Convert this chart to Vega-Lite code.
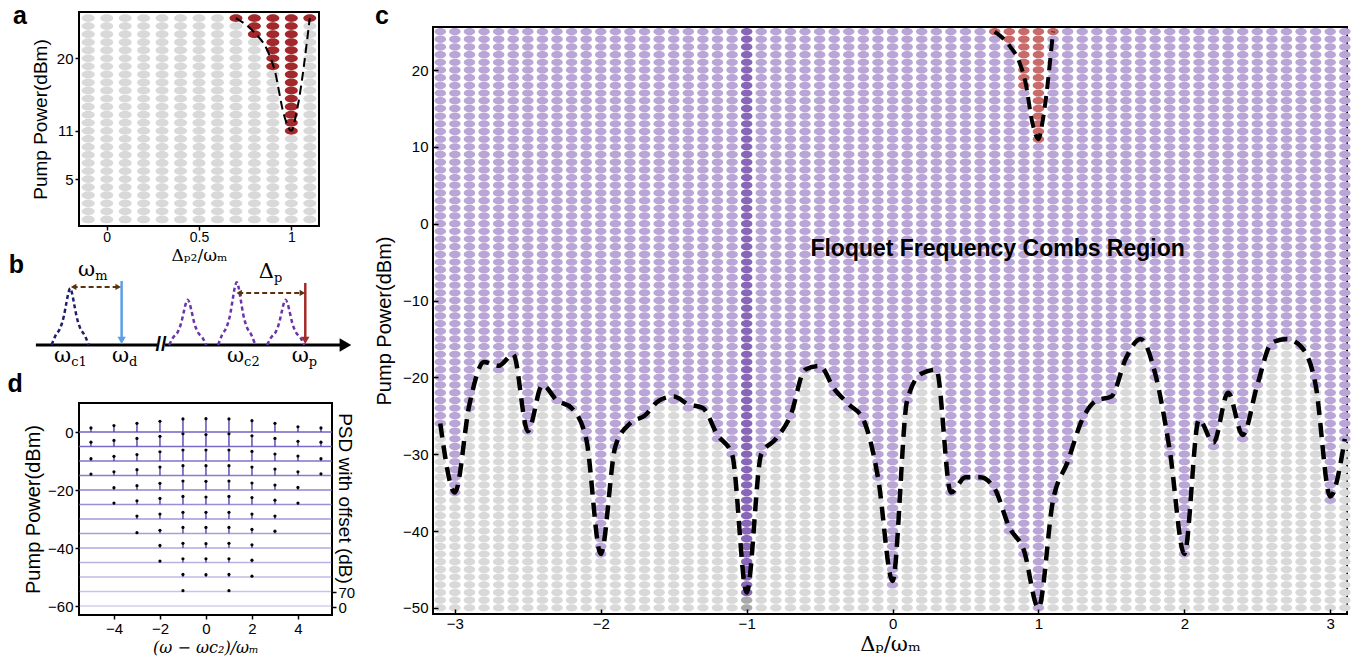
{
  "$schema": "https://vega.github.io/schema/vega-lite/v6.json",
  "background": "white",
  "padding": {"left": 6, "top": 2, "right": 0, "bottom": 0},
  "config": {
    "view": {"stroke": "black", "strokeWidth": 2},
    "font": "Liberation Sans",
    "axis": {"domain": false, "grid": false, "ticks": true, "tickColor": "black", "tickSize": 4, "tickWidth": 1.5, "labelFont": "Liberation Sans", "labelFontSize": 15, "labelColor": "black", "titleFont": "Liberation Sans", "titleFontWeight": "normal", "titleColor": "black", "labelPadding": 2}
  },
  "datasets": {
    "ysC": [{"k": 1, "ys": [-50,-49,-48,-47,-46,-45,-44,-43,-42,-41,-40,-39,-38,-37,-36,-35,-34,-33,-32,-31,-30,-29,-28,-27,-26,-25,-24,-23,-22,-21,-20,-19,-18,-17,-16,-15,-14,-13,-12,-11,-10,-9,-8,-7,-6,-5,-4,-3,-2,-1,0,1,2,3,4,5,6,7,8,9,10,11,12,13,14,15,16,17,18,19,20,21,22,23,24,25]}],
    "ysA": [{"k": 1, "ys": [0,1,2,3,4,5,6,7,8,9,10,11,12,13,14,15,16,17,18,19,20,21,22,23,24,25]}],
    "colsC": [
      {"k":1,"x":-3.1,"t":-26},{"k":1,"x":-3.0,"t":-35},{"k":1,"x":-2.9,"t":-23.5},{"k":1,"x":-2.8,"t":-18},{"k":1,"x":-2.7,"t":-18.5},
      {"k":1,"x":-2.6,"t":-17},{"k":1,"x":-2.5,"t":-27},{"k":1,"x":-2.4,"t":-21},{"k":1,"x":-2.3,"t":-23},{"k":1,"x":-2.2,"t":-24},
      {"k":1,"x":-2.1,"t":-28},{"k":1,"x":-2.0,"t":-43},{"k":1,"x":-1.9,"t":-29},{"k":1,"x":-1.8,"t":-26},{"k":1,"x":-1.7,"t":-25},
      {"k":1,"x":-1.6,"t":-23},{"k":1,"x":-1.5,"t":-22.5},{"k":1,"x":-1.4,"t":-23.5},{"k":1,"x":-1.3,"t":-24},{"k":1,"x":-1.2,"t":-27.5},
      {"k":1,"x":-1.1,"t":-30},{"k":1,"x":-1.0,"t":-48,"hl":1},{"k":1,"x":-0.9,"t":-30},{"k":1,"x":-0.8,"t":-28},{"k":1,"x":-0.7,"t":-25},
      {"k":1,"x":-0.6,"t":-19},{"k":1,"x":-0.5,"t":-18.5},{"k":1,"x":-0.4,"t":-21.5},{"k":1,"x":-0.3,"t":-23.5},{"k":1,"x":-0.2,"t":-25.5},
      {"k":1,"x":-0.1,"t":-33},{"k":1,"x":0.0,"t":-46.5},{"k":1,"x":0.1,"t":-23},{"k":1,"x":0.2,"t":-19.5},{"k":1,"x":0.3,"t":-19},
      {"k":1,"x":0.4,"t":-35},{"k":1,"x":0.5,"t":-33},{"k":1,"x":0.6,"t":-33},{"k":1,"x":0.7,"t":-34.5,"r":25},{"k":1,"x":0.8,"t":-39.5,"r":24},
      {"k":1,"x":0.9,"t":-42.5,"r":18},{"k":1,"x":1.0,"t":-50,"r":11},{"k":1,"x":1.1,"t":-36,"r":25},{"k":1,"x":1.2,"t":-31},{"k":1,"x":1.3,"t":-25.5},
      {"k":1,"x":1.4,"t":-23},{"k":1,"x":1.5,"t":-22.5},{"k":1,"x":1.6,"t":-17.5},{"k":1,"x":1.7,"t":-15},{"k":1,"x":1.8,"t":-19.5},
      {"k":1,"x":1.9,"t":-29.5},{"k":1,"x":2.0,"t":-43},{"k":1,"x":2.1,"t":-25.5},{"k":1,"x":2.2,"t":-28.5},{"k":1,"x":2.3,"t":-22},
      {"k":1,"x":2.4,"t":-27.5},{"k":1,"x":2.5,"t":-21},{"k":1,"x":2.6,"t":-15.5},{"k":1,"x":2.7,"t":-15},{"k":1,"x":2.8,"t":-16},
      {"k":1,"x":2.9,"t":-21},{"k":1,"x":3.0,"t":-35.5},{"k":1,"x":3.1,"t":-28}
    ],
    "colsA": [
      {"k":1,"x":-0.1},{"k":1,"x":0.0},{"k":1,"x":0.1},{"k":1,"x":0.2},{"k":1,"x":0.3},{"k":1,"x":0.4},{"k":1,"x":0.5},
      {"k":1,"x":0.6},{"k":1,"x":0.7,"r":25},{"k":1,"x":0.8,"r":23},{"k":1,"x":0.9,"r":19},{"k":1,"x":1.0,"r":11},{"k":1,"x":1.1,"r":25}
    ],
    "redCurve": [
      {"x":0.7,"y":25},{"x":0.8,"y":23.2},{"x":0.87,"y":21},{"x":0.91,"y":18.5},{"x":0.96,"y":13},{"x":1.0,"y":11},{"x":1.03,"y":13.5},{"x":1.1,"y":25}
    ],
    "baseD": [{"P":0},{"P":-5},{"P":-10},{"P":-15},{"P":-20},{"P":-25},{"P":-30},{"P":-35},{"P":-40},{"P":-45},{"P":-50},{"P":-55},{"P":-60}],
    "combD": [
      {"P":0,"n":-5,"v":1.4},{"P":0,"n":-4,"v":2.2},{"P":0,"n":-3,"v":3.0},{"P":0,"n":-2,"v":3.7},{"P":0,"n":-1,"v":4.5},{"P":0,"n":0,"v":4.6},{"P":0,"n":1,"v":4.5},{"P":0,"n":2,"v":3.9},{"P":0,"n":3,"v":3.0},{"P":0,"n":4,"v":1.8},{"P":0,"n":5,"v":1.4},
      {"P":-5,"n":-5,"v":-3.5},{"P":-5,"n":-4,"v":-2.9},{"P":-5,"n":-3,"v":-2.2},{"P":-5,"n":-2,"v":-1.5},{"P":-5,"n":-1,"v":-0.6},{"P":-5,"n":0,"v":-0.9},{"P":-5,"n":1,"v":-0.6},{"P":-5,"n":2,"v":-1.3},{"P":-5,"n":3,"v":-2.2},{"P":-5,"n":4,"v":-3.2},{"P":-5,"n":5,"v":-3.5},
      {"P":-10,"n":-5,"v":-9.2},{"P":-10,"n":-4,"v":-8.4},{"P":-10,"n":-3,"v":-7.8},{"P":-10,"n":-2,"v":-6.8},{"P":-10,"n":-1,"v":-6.2},{"P":-10,"n":0,"v":-6.2},{"P":-10,"n":1,"v":-6.2},{"P":-10,"n":2,"v":-6.7},{"P":-10,"n":3,"v":-7.6},{"P":-10,"n":4,"v":-8.3},{"P":-10,"n":5,"v":-9.2},
      {"P":-15,"n":-5,"v":-14.5},{"P":-15,"n":-4,"v":-13.7},{"P":-15,"n":-3,"v":-13.0},{"P":-15,"n":-2,"v":-12.1},{"P":-15,"n":-1,"v":-11.6},{"P":-15,"n":0,"v":-11.6},{"P":-15,"n":1,"v":-11.6},{"P":-15,"n":2,"v":-12.1},{"P":-15,"n":3,"v":-12.8},{"P":-15,"n":4,"v":-13.7},{"P":-15,"n":5,"v":-14.4},
      {"P":-20,"n":-4,"v":-19.2},{"P":-20,"n":-3,"v":-18.5},{"P":-20,"n":-2,"v":-17.7},{"P":-20,"n":-1,"v":-16.9},{"P":-20,"n":0,"v":-17.0},{"P":-20,"n":1,"v":-16.9},{"P":-20,"n":2,"v":-17.6},{"P":-20,"n":3,"v":-18.3},{"P":-20,"n":4,"v":-19.1},
      {"P":-25,"n":-4,"v":-24.5},{"P":-25,"n":-3,"v":-23.7},{"P":-25,"n":-2,"v":-22.9},{"P":-25,"n":-1,"v":-22.2},{"P":-25,"n":0,"v":-22.4},{"P":-25,"n":1,"v":-22.2},{"P":-25,"n":2,"v":-22.6},{"P":-25,"n":3,"v":-23.5},{"P":-25,"n":4,"v":-24.5},
      {"P":-30,"n":-3,"v":-29.0},{"P":-30,"n":-2,"v":-28.3},{"P":-30,"n":-1,"v":-27.7},{"P":-30,"n":0,"v":-27.7},{"P":-30,"n":1,"v":-27.7},{"P":-30,"n":2,"v":-28.3},{"P":-30,"n":3,"v":-29.0},
      {"P":-35,"n":-3,"v":-34.7},{"P":-35,"n":-2,"v":-33.9},{"P":-35,"n":-1,"v":-32.9},{"P":-35,"n":0,"v":-32.9},{"P":-35,"n":1,"v":-32.9},{"P":-35,"n":2,"v":-33.6},{"P":-35,"n":3,"v":-34.2},
      {"P":-40,"n":-2,"v":-39.1},{"P":-40,"n":-1,"v":-38.4},{"P":-40,"n":0,"v":-38.5},{"P":-40,"n":1,"v":-38.4},{"P":-40,"n":2,"v":-38.9},
      {"P":-45,"n":-2,"v":-44.5},{"P":-45,"n":-1,"v":-43.7},{"P":-45,"n":0,"v":-43.7},{"P":-45,"n":1,"v":-43.7},{"P":-45,"n":2,"v":-44.2},
      {"P":-50,"n":-1,"v":-49.1},{"P":-50,"n":0,"v":-49.2},{"P":-50,"n":1,"v":-49.1},{"P":-50,"n":2,"v":-49.7},
      {"P":-55,"n":-1,"v":-54.7},{"P":-55,"n":1,"v":-54.7}
    ],
    "peaksB": [
      {"pk":"A","g":"1","f":-0.38,"a":0},{"pk":"A","g":"1","f":-0.3,"a":0.14},{"pk":"A","g":"1","f":-0.2,"a":0.26},{"pk":"A","g":"1","f":-0.13,"a":0.43},{"pk":"A","g":"1","f":-0.08,"a":0.62},{"pk":"A","g":"1","f":-0.04,"a":0.77},{"pk":"A","g":"1","f":0,"a":0.85},{"pk":"A","g":"1","f":0.04,"a":0.77},{"pk":"A","g":"1","f":0.08,"a":0.62},{"pk":"A","g":"1","f":0.13,"a":0.43},{"pk":"A","g":"1","f":0.2,"a":0.26},{"pk":"A","g":"1","f":0.3,"a":0.14},{"pk":"A","g":"1","f":0.38,"a":0},
      {"pk":"B","g":"2","f":2.02,"a":0},{"pk":"B","g":"2","f":2.1,"a":0.11},{"pk":"B","g":"2","f":2.2,"a":0.2},{"pk":"B","g":"2","f":2.27,"a":0.34},{"pk":"B","g":"2","f":2.32,"a":0.5},{"pk":"B","g":"2","f":2.36,"a":0.62},{"pk":"B","g":"2","f":2.4,"a":0.68},{"pk":"B","g":"2","f":2.44,"a":0.62},{"pk":"B","g":"2","f":2.48,"a":0.5},{"pk":"B","g":"2","f":2.53,"a":0.34},{"pk":"B","g":"2","f":2.6,"a":0.2},{"pk":"B","g":"2","f":2.7,"a":0.11},{"pk":"B","g":"2","f":2.78,"a":0},
      {"pk":"C","g":"2","f":3.02,"a":0},{"pk":"C","g":"2","f":3.1,"a":0.15},{"pk":"C","g":"2","f":3.2,"a":0.28},{"pk":"C","g":"2","f":3.27,"a":0.47},{"pk":"C","g":"2","f":3.32,"a":0.69},{"pk":"C","g":"2","f":3.36,"a":0.86},{"pk":"C","g":"2","f":3.4,"a":0.94},{"pk":"C","g":"2","f":3.44,"a":0.86},{"pk":"C","g":"2","f":3.48,"a":0.69},{"pk":"C","g":"2","f":3.53,"a":0.47},{"pk":"C","g":"2","f":3.6,"a":0.28},{"pk":"C","g":"2","f":3.7,"a":0.15},{"pk":"C","g":"2","f":3.78,"a":0},
      {"pk":"D","g":"2","f":4.02,"a":0},{"pk":"D","g":"2","f":4.1,"a":0.11},{"pk":"D","g":"2","f":4.2,"a":0.2},{"pk":"D","g":"2","f":4.27,"a":0.34},{"pk":"D","g":"2","f":4.32,"a":0.5},{"pk":"D","g":"2","f":4.36,"a":0.62},{"pk":"D","g":"2","f":4.4,"a":0.68},{"pk":"D","g":"2","f":4.44,"a":0.62},{"pk":"D","g":"2","f":4.48,"a":0.5},{"pk":"D","g":"2","f":4.53,"a":0.34},{"pk":"D","g":"2","f":4.6,"a":0.2},{"pk":"D","g":"2","f":4.7,"a":0.11},{"pk":"D","g":"2","f":4.78,"a":0}
    ]
  },
  "spacing": 17,
  "hconcat": [
    {
      "bounds": "flush",
      "spacing": 30,
      "vconcat": [
        {
          "width": 240, "height": 214,
          "layer": [
            {
              "data": {"name": "colsA"},
              "transform": [
                {"lookup": "k", "from": {"data": {"name": "ysA"}, "key": "k", "fields": ["ys"]}},
                {"flatten": ["ys"], "as": ["y"]}
              ],
              "mark": {"type": "point", "filled": true, "opacity": 1, "size": 170, "shape": "M-1,0A1,0.6,0,1,0,1,0A1,0.6,0,1,0,-1,0Z"},
              "encoding": {
                "x": {"field": "x", "type": "quantitative", "scale": {"domain": [-0.15, 1.15], "nice": false, "zero": false},
                      "axis": {"values": [0, 0.5, 1], "labelExpr": "datum.value", "labelPadding": 0, "labelFontSize": 14, "title": "Δₚ₂/ωₘ", "titleFont": "DejaVu Serif", "titleFontSize": 17, "titlePadding": 3}},
                "y": {"field": "y", "type": "quantitative", "scale": {"domain": [-0.82, 25.75], "nice": false, "zero": false},
                      "axis": {"values": [5, 11, 20], "title": "Pump Power(dBm)", "titleFontSize": 19, "titlePadding": 6}},
                "color": {"condition": {"test": "isValid(datum.r) && datum.y >= datum.r - 0.5", "value": "#a3282c"}, "value": "#d9d9d9"}
              }
            },
            {
              "data": {"name": "redCurve"},
              "mark": {"type": "line", "color": "black", "strokeWidth": 2, "strokeDash": [9, 5], "interpolate": "monotone"},
              "encoding": {"x": {"field": "x", "type": "quantitative"}, "y": {"field": "y", "type": "quantitative"}}
            },
            {
              "data": {"values": [{"lab": "a"}]},
              "mark": {"type": "text", "fontSize": 25, "fontWeight": "bold", "color": "black", "clip": false},
              "encoding": {"x": {"datum": -0.47}, "y": {"datum": 25.3}, "text": {"field": "lab"}}
            }
          ]
        },
        {
          "width": 240, "height": 117,
          "view": {"stroke": null},
          "layer": [
            {
              "data": {"values": [{"x1": -0.7, "x2": 1.78}, {"x1": 1.93, "x2": 5.55}]},
              "mark": {"type": "rule", "color": "black", "strokeWidth": 3, "clip": false},
              "encoding": {
                "x": {"field": "x1", "type": "quantitative", "scale": {"domain": [0.18, 5.08], "nice": false, "zero": false}, "axis": null},
                "x2": {"field": "x2"},
                "y": {"datum": 0, "type": "quantitative", "scale": {"domain": [-0.42, 1.334], "nice": false, "zero": false}, "axis": null}
              }
            },
            {
              "data": {"values": [{"f": 5.62, "y": 0}]},
              "mark": {"type": "point", "shape": "triangle-right", "filled": true, "color": "black", "size": 180, "opacity": 1, "clip": false},
              "encoding": {"x": {"field": "f", "type": "quantitative"}, "y": {"field": "y", "type": "quantitative"}}
            },
            {
              "data": {"values": [{"f": 1.855, "y": 0, "s": "//"}]},
              "mark": {"type": "text", "fontSize": 20, "fontWeight": "bold", "color": "black", "clip": false},
              "encoding": {"x": {"field": "f", "type": "quantitative"}, "y": {"field": "y", "type": "quantitative"}, "text": {"field": "s"}}
            },
            {
              "data": {"name": "peaksB"},
              "mark": {"type": "line", "strokeWidth": 2.5, "strokeDash": [4, 3], "interpolate": "monotone", "clip": false},
              "encoding": {
                "x": {"field": "f", "type": "quantitative"},
                "y": {"field": "a", "type": "quantitative"},
                "detail": {"field": "pk"},
                "color": {"field": "g", "type": "nominal", "scale": {"domain": ["1", "2", "d", "p"], "range": ["#1f1f6b", "#6a35a8", "#5b9fe8", "#a52a2a"]}, "legend": null}
              }
            },
            {
              "data": {"values": [{"f": 1.05, "top": 0.96, "g": "d"}, {"f": 4.8, "top": 0.93, "g": "p"}]},
              "mark": {"type": "rule", "strokeWidth": 2.5, "clip": false},
              "encoding": {
                "x": {"field": "f", "type": "quantitative"},
                "y": {"field": "top", "type": "quantitative"},
                "y2": {"datum": 0.08},
                "color": {"field": "g", "type": "nominal", "legend": null}
              }
            },
            {
              "data": {"values": [{"f": 1.05, "y": 0.07, "g": "d"}, {"f": 4.8, "y": 0.07, "g": "p"}]},
              "mark": {"type": "point", "shape": "triangle-down", "filled": true, "size": 70, "opacity": 1, "clip": false},
              "encoding": {
                "x": {"field": "f", "type": "quantitative"},
                "y": {"field": "y", "type": "quantitative"},
                "color": {"field": "g", "type": "nominal", "legend": null}
              }
            },
            {
              "data": {"values": [{"a": 0.05, "b": 1.0, "y": 0.87}, {"a": 3.43, "b": 4.76, "y": 0.78}]},
              "mark": {"type": "rule", "color": "#5a3210", "strokeWidth": 2, "strokeDash": [5, 3], "clip": false},
              "encoding": {"x": {"field": "a", "type": "quantitative"}, "x2": {"field": "b"}, "y": {"field": "y", "type": "quantitative"}}
            },
            {
              "data": {"values": [{"f": 0.07, "y": 0.87, "d": "L"}, {"f": 0.98, "y": 0.87, "d": "R"}, {"f": 3.45, "y": 0.78, "d": "L"}, {"f": 4.74, "y": 0.78, "d": "R"}]},
              "mark": {"type": "point", "filled": true, "color": "#5a3210", "size": 40, "opacity": 1, "clip": false},
              "encoding": {
                "x": {"field": "f", "type": "quantitative"},
                "y": {"field": "y", "type": "quantitative"},
                "shape": {"field": "d", "type": "nominal", "scale": {"domain": ["L", "R"], "range": ["triangle-left", "triangle-right"]}, "legend": null}
              }
            },
            {
              "data": {"values": [{"f": -0.04, "y": -0.17, "m": "ω", "s": "c1"}, {"f": 1.14, "y": -0.17, "m": "ω", "s": "d"}, {"f": 3.49, "y": -0.17, "m": "ω", "s": "c2"}, {"f": 4.81, "y": -0.17, "m": "ω", "s": "p"}, {"f": 0.45, "y": 1.12, "m": "ω", "s": "m"}, {"f": 4.1, "y": 1.1, "m": "Δ", "s": "p"}]},
              "layer": [
                {
                  "mark": {"type": "text", "font": "DejaVu Serif", "fontSize": 21, "align": "right", "dx": 3, "color": "black", "clip": false},
                  "encoding": {"x": {"field": "f", "type": "quantitative"}, "y": {"field": "y", "type": "quantitative"}, "text": {"field": "m"}}
                },
                {
                  "mark": {"type": "text", "font": "DejaVu Serif", "fontSize": 13, "align": "left", "dx": 3, "dy": 6, "color": "black", "clip": false},
                  "encoding": {"x": {"field": "f", "type": "quantitative"}, "y": {"field": "y", "type": "quantitative"}, "text": {"field": "s"}}
                }
              ]
            },
            {
              "data": {"values": [{"lab": "b"}]},
              "mark": {"type": "text", "fontSize": 25, "fontWeight": "bold", "color": "black", "clip": false},
              "encoding": {"x": {"datum": -1.1}, "y": {"datum": 1.2}, "text": {"field": "lab"}}
            }
          ]
        },
        {
          "width": 253, "height": 212,
          "resolve": {"scale": {"y": "independent"}},
          "layer": [
            {
              "layer": [
                {
                  "data": {"name": "baseD"},
                  "mark": {"type": "rule", "color": "#6a58c0", "strokeWidth": 1.3},
                  "encoding": {
                    "y": {"field": "P", "type": "quantitative", "scale": {"domain": [-63.1, 10], "nice": false, "zero": false},
                          "axis": {"values": [0, -20, -40, -60], "format": "d", "title": "Pump Power(dBm)", "titleFontSize": 20, "titlePadding": 4}},
                    "opacity": {"field": "P", "type": "quantitative", "scale": {"domain": [-60, 0], "range": [0.3, 0.95]}, "legend": null}
                  }
                },
                {
                  "data": {"name": "combD"},
                  "mark": {"type": "rule", "color": "#5b3fb0", "strokeWidth": 1.4},
                  "encoding": {
                    "x": {"field": "n", "type": "quantitative", "scale": {"domain": [-5.52, 5.48], "nice": false, "zero": false},
                          "axis": {"values": [-4, -2, 0, 2, 4], "format": "d", "title": "(ω − ωc₂)/ωₘ", "titleFont": "DejaVu Serif", "titleFontStyle": "italic", "titleFontSize": 16, "titlePadding": 3}},
                    "y": {"field": "P", "type": "quantitative"},
                    "y2": {"field": "v"}
                  }
                },
                {
                  "data": {"name": "combD"},
                  "mark": {"type": "point", "filled": true, "color": "black", "size": 10, "opacity": 1},
                  "encoding": {"x": {"field": "n", "type": "quantitative"}, "y": {"field": "v", "type": "quantitative"}}
                },
                {
                  "data": {"values": [{"lab": "d"}]},
                  "mark": {"type": "text", "fontSize": 25, "fontWeight": "bold", "color": "black", "clip": false},
                  "encoding": {"x": {"datum": -8.3}, "y": {"datum": 16.5}, "text": {"field": "lab"}}
                }
              ]
            },
            {
              "data": {"values": [{"v": 0}]},
              "mark": {"type": "point", "opacity": 0},
              "encoding": {
                "y": {"field": "v", "type": "quantitative", "scale": {"domain": [-37, 952], "nice": false, "zero": false},
                      "axis": {"orient": "right", "values": [0, 70], "labelOverlap": false, "title": "PSD with offset (dB)", "titleFontSize": 19, "titlePadding": -20, "titleY": 95}}
              }
            }
          ]
        }
      ]
    },
    {
      "bounds": "flush",
      "spacing": 10,
      "vconcat": [
        {
          "width": 914, "height": 5,
          "view": {"stroke": null},
          "data": {"values": [{"s": ""}]},
          "mark": {"type": "text"},
          "encoding": {"text": {"field": "s"}}
        },
        {
          "width": 914, "height": 587,
          "layer": [
            {
              "data": {"name": "colsC"},
              "transform": [
                {"lookup": "k", "from": {"data": {"name": "ysC"}, "key": "k", "fields": ["ys"]}},
                {"flatten": ["ys"], "as": ["y"]}
              ],
              "mark": {"type": "point", "filled": true, "opacity": 1, "size": 132, "shape": "M-1,0A1,0.64,0,1,0,1,0A1,0.64,0,1,0,-1,0Z"},
              "encoding": {
                "x": {"field": "x", "type": "quantitative", "scale": {"domain": [-3.15, 3.115], "nice": false, "zero": false},
                      "axis": {"values": [-3, -2, -1, 0, 1, 2, 3], "format": "d", "tickSize": -5, "labelPadding": 7, "zindex": 1, "title": "Δₚ/ωₘ", "titleFont": "DejaVu Serif", "titleFontSize": 21, "titlePadding": 2}},
                "y": {"field": "y", "type": "quantitative", "scale": {"domain": [-50.8, 25.6], "nice": false, "zero": false},
                      "axis": {"values": [-50, -40, -30, -20, -10, 0, 10, 20], "format": "d", "tickSize": -5, "labelPadding": 10, "zindex": 1, "title": "Pump Power(dBm)", "titleFontSize": 20, "titlePadding": 8}},
                "color": {
                  "condition": [
                    {"test": "isValid(datum.r) && datum.y >= datum.r - 0.5", "value": "#c96b6b"},
                    {"test": "datum.hl == 1 && datum.y >= datum.t - 0.5", "value": "#8866b8"},
                    {"test": "datum.y >= datum.t - 0.5", "value": "#b9a6d6"},
                    {"test": "datum.hl == 1", "value": "#a9a9a9"}
                  ],
                  "value": "#d9d9d9"
                }
              }
            },
            {
              "data": {"name": "colsC"},
              "mark": {"type": "line", "color": "black", "strokeWidth": 4.5, "strokeDash": [14, 8], "interpolate": "monotone"},
              "encoding": {"x": {"field": "x", "type": "quantitative"}, "y": {"field": "t", "type": "quantitative"}}
            },
            {
              "data": {"name": "redCurve"},
              "mark": {"type": "line", "color": "black", "strokeWidth": 4, "strokeDash": [12, 7], "interpolate": "monotone"},
              "encoding": {"x": {"field": "x", "type": "quantitative"}, "y": {"field": "y", "type": "quantitative"}}
            },
            {
              "data": {"values": [{"s": "Floquet Frequency Combs Region"}]},
              "mark": {"type": "text", "fontSize": 23, "fontWeight": "bold", "color": "black"},
              "encoding": {"x": {"datum": 0.72}, "y": {"datum": -3.3}, "text": {"field": "s"}}
            },
            {
              "data": {"values": [{"lab": "c"}]},
              "mark": {"type": "text", "fontSize": 25, "fontWeight": "bold", "color": "black", "clip": false},
              "encoding": {"x": {"datum": -3.5}, "y": {"datum": 27}, "text": {"field": "lab"}}
            }
          ]
        }
      ]
    }
  ]
}
